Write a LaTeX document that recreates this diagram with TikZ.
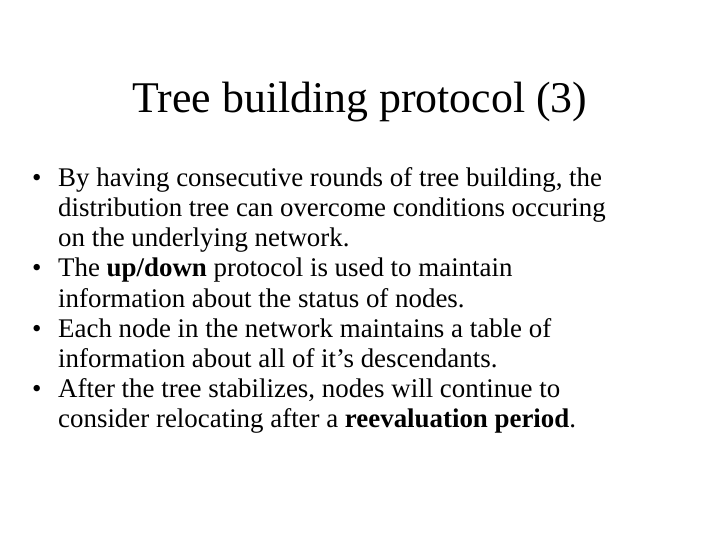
\documentclass[tikz,border=0pt]{standalone}
\usepackage{fontspec}
\setmainfont{Liberation Serif}
\begin{document}
\begin{tikzpicture}[x=1bp,y=-1bp,
  ln/.style={anchor=base west,inner sep=0,font=\fontsize{27}{30}\selectfont},
  bl/.style={anchor=base west,inner sep=0,font=\fontsize{27}{30}\selectfont}]
\useasboundingbox[fill=white] (0,0) rectangle (720,540);
\node[anchor=base,inner sep=0,font=\fontsize{44}{48}\selectfont] (title) at (360,113) {Tree building protocol (3)};
\foreach \y in {187,277,337,397} \node[bl] at (32,\y) {•};
\node[ln] (l1) at (58,187) {By having consecutive rounds of tree building, the};
\node[ln] (l2) at (58,217) {distribution tree can overcome conditions occuring};
\node[ln] (l3) at (58,247) {on the underlying network.};
\node[ln] (l4) at (58,277) {The \textbf{up/down} protocol is used to maintain};
\node[ln] (l5) at (58,307) {information about the status of nodes.};
\node[ln] (l6) at (58,337) {Each node in the network maintains a table of};
\node[ln] (l7) at (58,367) {information about all of it’s descendants.};
\node[ln] (l8) at (58,397) {After the tree stabilizes, nodes will continue to};
\node[ln] (l9) at (58,427) {consider relocating after a \textbf{reevaluation period}.};
\end{tikzpicture}
\end{document}
